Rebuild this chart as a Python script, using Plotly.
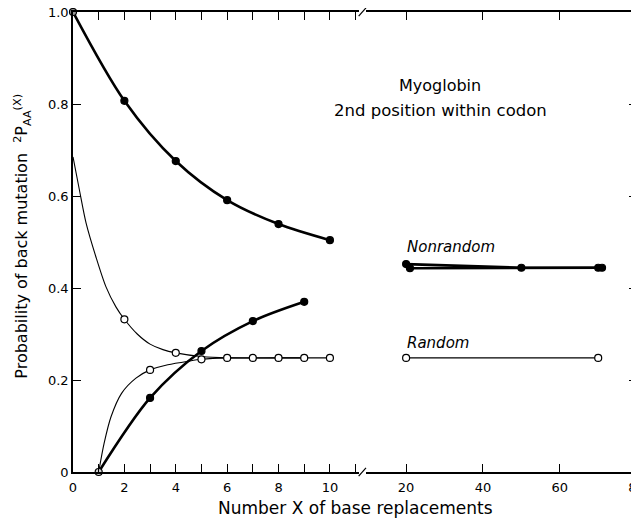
import plotly.graph_objects as go

# ---------------- data ----------------
# Nonrandom, left panel (filled markers, thick lines)
nr_even_x = [0, 2, 4, 6, 8, 10]
nr_even_y = [1.0, 0.807, 0.676, 0.591, 0.539, 0.504]
nr_odd_x = [1, 3, 5, 7, 9]
nr_odd_y = [0.0, 0.161, 0.263, 0.328, 0.370]

# Random, left panel (open markers)
rand_even_x = [2, 4, 6, 8, 10]
rand_even_y = [0.332, 0.259, 0.248, 0.248, 0.248]
rand_odd_x = [3, 5, 7, 9]
rand_odd_y = [0.222, 0.245, 0.248, 0.248]

# Smooth thin curves of the random case, as traced on the picture
rand_even_curve_x = [0, 0.25, 0.51, 0.89, 1.28, 1.67, 2, 2.5, 3, 3.5, 4, 5, 6, 8, 10]
rand_even_curve_y = [0.685, 0.613, 0.541, 0.468, 0.403, 0.359, 0.332, 0.300, 0.278,
                     0.266, 0.259, 0.251, 0.248, 0.248, 0.248]
rand_odd_curve_x = [1, 1.21, 1.48, 1.89, 2.45, 3, 3.69, 4.5, 5, 6, 7, 8, 9]
rand_odd_curve_y = [0.0, 0.062, 0.120, 0.171, 0.204, 0.222, 0.233, 0.241, 0.245,
                    0.248, 0.248, 0.248, 0.248]

# Right panel (large X)
nr_right_even_x = [20, 50, 70]
nr_right_even_y = [0.452, 0.444, 0.444]
nr_right_odd_x = [21, 71]
nr_right_odd_y = [0.443, 0.444]
rand_right_x = [20, 70]
rand_right_y = [0.248, 0.248]

x_left_ticks = [0, 2, 4, 6, 8, 10]
x_right_ticks = [20, 40, 60, 80]
y_ticks = [0, 0.2, 0.4, 0.6, 0.8, 1.0]
y_tick_text = ["0", "0.2", "0.4", "0.6", "0.8", "1.0"]

FONT = "DejaVu Sans"
BLACK = "black"
THICK = 2.6
THIN = 1.1
MS = 7

fig = go.Figure()

def line(x, y, width, xa="x", ya="y", shape="spline", smoothing=0.8):
    fig.add_trace(go.Scatter(x=x, y=y, mode="lines", xaxis=xa, yaxis=ya,
                             line=dict(color=BLACK, width=width, shape=shape, smoothing=smoothing),
                             hoverinfo="skip", showlegend=False, cliponaxis=False))

def marks(x, y, filled, xa="x", ya="y", fill=None):
    fig.add_trace(go.Scatter(x=x, y=y, mode="markers", xaxis=xa, yaxis=ya,
                             marker=dict(size=MS, color=(fill or (BLACK if filled else "white")),
                                         line=dict(color=BLACK, width=1.2)),
                             showlegend=False, cliponaxis=False))

# thin random curves
line(rand_even_curve_x, rand_even_curve_y, THIN)
line(rand_odd_curve_x, rand_odd_curve_y, THIN)
# thick nonrandom curves
line(nr_even_x, nr_even_y, THICK, smoothing=0.9)
line(nr_odd_x, nr_odd_y, THICK, smoothing=0.9)

# markers left
marks(rand_even_x, rand_even_y, False)
marks(rand_odd_x, rand_odd_y, False)
marks(nr_even_x[1:], nr_even_y[1:], True)
marks(nr_odd_x[1:], nr_odd_y[1:], True)
marks(nr_even_x[:1], nr_even_y[:1], False, fill="#9a9a9a")
marks(nr_odd_x[:1], nr_odd_y[:1], False, fill="#d0d0d0")

# right panel
line(rand_right_x, rand_right_y, THIN, "x2", "y2", "linear")
line(nr_right_even_x, nr_right_even_y, THICK, "x2", "y2", "linear")
line(nr_right_odd_x, nr_right_odd_y, THICK, "x2", "y2", "linear")
marks(rand_right_x, rand_right_y, False, "x2", "y2")
marks(nr_right_even_x, nr_right_even_y, True, "x2", "y2")
marks(nr_right_odd_x, nr_right_odd_y, True, "x2", "y2")

axis_common = dict(showline=True, linecolor=BLACK, linewidth=1.5, ticks="inside",
                   tickcolor=BLACK, tickwidth=1.2, ticklen=8, showgrid=False,
                   zeroline=False, ticklabeloverflow="allow", automargin=False,
                   tickfont=dict(family=FONT, size=13, color=BLACK))

# page body has an 8px margin, so the figure is 8px smaller than the window
fig.update_layout(
    width=631, height=513,
    margin=dict(l=65, r=2, t=4, b=49, autoexpand=False),
    paper_bgcolor="white", plot_bgcolor="white",
    xaxis=dict(**axis_common, mirror="ticks", domain=[0, 0.507], range=[0, 11.13],
               tickvals=x_left_ticks, ticktext=[str(v) for v in x_left_ticks],
               minor=dict(dtick=1, tick0=0, ticks="inside", ticklen=8, tickcolor=BLACK, tickwidth=1.2),
               anchor="y", ticklabelstandoff=3),
    xaxis2=dict(**axis_common, mirror="ticks", domain=[0.5195, 1.0], range=[9.56, 80.1],
                tickvals=x_right_ticks, ticktext=[str(v) for v in x_right_ticks],
                anchor="y2", ticklabelstandoff=3),
    yaxis=dict(**axis_common, mirror=False,
               range=[0, 1.0], tickvals=y_ticks, ticktext=y_tick_text, anchor="x",
               ticklabelstandoff=0),
    yaxis2=dict(**axis_common, mirror=False,
                range=[0, 1.0], tickvals=y_ticks, showticklabels=False,
                anchor="x2", side="right", matches="y"),
)

# axis-break slashes
for py in (0.0, 1.0):
    fig.add_shape(type="line", xref="paper", yref="paper",
                  x0=0.5065, x1=0.5195, y0=py - 0.009, y1=py + 0.009,
                  line=dict(color=BLACK, width=1.2))

ann_font = dict(family=FONT, size=16, color=BLACK)
fig.add_annotation(text="Myoglobin", xref="paper", yref="paper", x=0.651, y=0.841,
                   showarrow=False, font=ann_font, xanchor="center", yanchor="middle")
fig.add_annotation(text="2nd position within codon", xref="paper", yref="paper", x=0.652, y=0.785,
                   showarrow=False, font=dict(family=FONT, size=16.5, color=BLACK),
                   xanchor="center", yanchor="middle")
fig.add_annotation(text="<i>Nonrandom</i>", xref="x2", yref="y2", x=19.8, y=0.489,
                   showarrow=False, font=dict(family=FONT, size=15, color=BLACK),
                   xanchor="left", yanchor="middle")
fig.add_annotation(text="<i>Random</i>", xref="x2", yref="y2", x=19.8, y=0.280,
                   showarrow=False, font=dict(family=FONT, size=15, color=BLACK),
                   xanchor="left", yanchor="middle")

# axis titles
fig.add_annotation(text="Number X of base replacements", xref="paper", yref="paper",
                   x=0.5, y=-0.078, showarrow=False, xanchor="center", yanchor="middle",
                   font=dict(family=FONT, size=17, color=BLACK))
fig.add_annotation(text="Probability of back mutation  <sup>2</sup>P<sub>AA</sub><sup>(X)</sup>",
                   xref="paper", yref="paper", x=-0.091, y=0.513, textangle=-90,
                   showarrow=False, xanchor="center", yanchor="middle",
                   font=dict(family=FONT, size=16, color=BLACK))

fig.write_html("out.html")
